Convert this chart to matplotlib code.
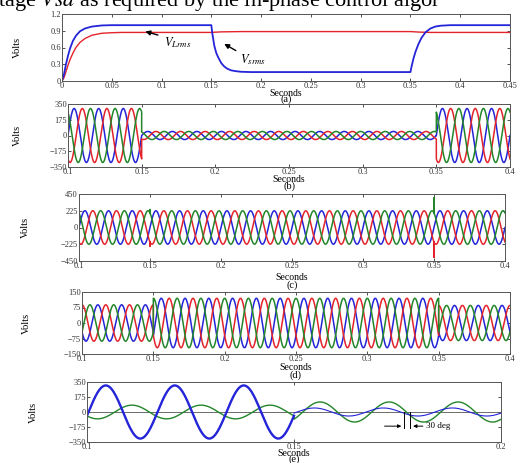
import numpy as np
import matplotlib
matplotlib.use('Agg')
import matplotlib.pyplot as plt

plt.rcParams['font.family'] = ['Liberation Serif', 'DejaVu Serif']
plt.rcParams['mathtext.fontset'] = 'stix'
plt.rcParams['axes.unicode_minus'] = True

W, H = 532, 463
FREQ = 60.0
RED, BLUE, GREEN = '#e3242b', '#2424d8', '#23862a'

# ---- (a) rms voltages
a_blue_t = [0, 0.002, 0.004, 0.006, 0.008, 0.011, 0.014, 0.018, 0.023, 0.03, 0.04, 0.05, 0.15,
            0.151, 0.153, 0.155, 0.157, 0.16, 0.163, 0.166, 0.17, 0.175, 0.18, 0.19, 0.2, 0.35,
            0.351, 0.353, 0.355, 0.358, 0.361, 0.365, 0.37, 0.375, 0.38, 0.39, 0.45]
a_blue_v = [0, 0.12, 0.3, 0.45, 0.58, 0.72, 0.81, 0.89, 0.94, 0.975, 0.995, 1.0, 1.0,
            0.85, 0.63, 0.5, 0.42, 0.32, 0.26, 0.22, 0.19, 0.175, 0.165, 0.16, 0.16, 0.16,
            0.25, 0.4, 0.52, 0.66, 0.77, 0.87, 0.94, 0.975, 0.99, 1.0, 1.0]
a_red_t = [0, 0.002, 0.004, 0.006, 0.008, 0.011, 0.014, 0.018, 0.023, 0.03, 0.04, 0.05, 0.06,
           0.15, 0.16, 0.18, 0.35, 0.36, 0.37, 0.45]
a_red_v = [0, 0.06, 0.17, 0.28, 0.38, 0.5, 0.6, 0.69, 0.76, 0.82, 0.855, 0.865, 0.87,
           0.87, 0.88, 0.885, 0.885, 0.875, 0.87, 0.87]

# ---- (b) supply voltage: segment edges, peak values, phase of blue (deg)
b_edges = [0.1, 0.15, 0.35, 0.4]
b_amp = [300, 45, 300]
b_phase = [0, 0, 0]

# ---- (c) load voltage
c_edges = [0.1, 0.15, 0.35, 0.4]
c_amp = [225, 225, 225]
c_phase = [0, 0, 0]
c_spikes = {'red': [-250, -400], 'green': [240, 400]}

# ---- (d) injected voltage
d_edges = [0.1, 0.15, 0.35, 0.4]
d_amp = [88, 120, 85]
d_phase = [210, -30, 210]

# ---- (e) phase a: supply (blue) and injected (green)
e_edges = [0.1, 0.15, 0.2]
e_blue_amp = [310, 47]
e_blue_phase = [-8, -16]
e_green_amp = [80, 117]
e_green_phase = [215, -46]

SHIFT = {'blue': 0, 'red': -120, 'green': 120}
COLORS = {'blue': BLUE, 'red': RED, 'green': GREEN}


def px_box(l, t, r, b):
    return [l / W, 1 - b / H, (r - l) / W, (b - t) / H]


def wave(edges, amps, phases, shift=0.0, spikes=None, n=300):
    ts, vs = [], []
    for k in range(len(amps)):
        t = np.linspace(edges[k], edges[k + 1], n)
        th = 2 * np.pi * FREQ * (t - edges[0]) + np.radians(phases[k] + shift)
        ts.append(t)
        vs.append(amps[k] * np.sin(th))
        if spikes is not None and k < len(amps) - 1 and spikes[k] is not None:
            ts.append(np.array([edges[k + 1]]))
            vs.append(np.array([spikes[k]]))
    return np.concatenate(ts), np.concatenate(vs)


def style(ax, xlim, ylim, xticks, yticks):
    ax.set_xlim(xlim)
    ax.set_ylim(ylim)
    ax.set_xticks(xticks)
    ax.set_yticks(yticks)
    ax.set_xticklabels([f'{v:g}' for v in xticks])
    ax.set_yticklabels([f'{v:g}'.replace('-', '\u2212') for v in yticks])
    ax.tick_params(direction='in', top=True, right=True, length=2.5, width=0.6,
                   labelsize=6, pad=0.8, colors='#333333')
    for s in ax.spines.values():
        s.set_linewidth(0.7)
        s.set_color('#555555')


def labels(ax_box, sec_y, tag_y, tag, volts_x):
    l, t, r, b = ax_box
    cx = (l + r) / 2 / W
    fig.text(cx, 1 - sec_y / H, 'Seconds', ha='center', va='center', fontsize=7)
    fig.text(cx, 1 - tag_y / H, tag, ha='center', va='center', fontsize=7.5)
    fig.text(volts_x / W, 1 - (t + b) / 2 / H, 'Volts', rotation=90, ha='center', va='center',
             fontsize=7.5)


fig = plt.figure(figsize=(W / 100, H / 100), dpi=100)

fig.text(-0.004, 0.988, r'tage $Vsd$ as required by the in-phase control algor',
         fontsize=16, ha='left', va='baseline')

boxes = [(62, 14, 510, 81), (68, 104, 510, 167), (79, 194, 505, 261),
         (82, 292, 510, 354), (87, 382, 501, 442)]
sec_ys = [93, 179, 277, 367, 453]
tag_ys = [99.5, 186, 285.5, 375, 459.5]
volts_xs = [17, 17, 25, 26, 33]
tags = ['(a)', '(b)', '(c)', '(d)', '(e)']

axes = [fig.add_axes(px_box(*bx)) for bx in boxes]
for bx, sy, ty, tg, vx in zip(boxes, sec_ys, tag_ys, tags, volts_xs):
    labels(bx, sy, ty, tg, vx)

# (a)
ax = axes[0]
ax.plot(a_red_t, a_red_v, color=RED, lw=1.0)
ax.plot(a_blue_t, a_blue_v, color=BLUE, lw=1.3)
style(ax, (0, 0.45), (0, 1.2), np.round(np.arange(0, 0.451, 0.05), 2), [0, 0.3, 0.6, 0.9, 1.2])
ax.annotate('', xy=(0.081, 0.9), xytext=(0.099, 0.81),
            arrowprops=dict(arrowstyle='-|>', color='k', lw=1.0, mutation_scale=7))
ax.text(0.102, 0.68, r'$V_{Lrms}$', fontsize=9, va='center')
ax.annotate('', xy=(0.1605, 0.69), xytext=(0.177, 0.52),
            arrowprops=dict(arrowstyle='-|>', color='k', lw=1.0, mutation_scale=7))
ax.text(0.179, 0.38, r'$V_{srms}$', fontsize=9, va='center')

# (b), (c), (d)
xt = np.round(np.arange(0.1, 0.401, 0.05), 2)
panels = [(axes[1], b_edges, b_amp, b_phase, None, 350),
          (axes[2], c_edges, c_amp, c_phase, c_spikes, 450),
          (axes[3], d_edges, d_amp, d_phase, None, 150)]
for ax, edges, amp, ph, spk, lim in panels:
    for name in ['blue', 'red', 'green']:
        s = spk.get(name) if spk else None
        t, v = wave(edges, amp, ph, SHIFT[name], spikes=s)
        ax.plot(t, v, color=COLORS[name], lw=1.1)
    style(ax, (0.1, 0.4), (-lim, lim), xt, [-lim, -lim / 2, 0, lim / 2, lim])

# (e)
ax = axes[4]
ax.axhline(0, color='#555555', lw=0.6)
t, v = wave(e_edges, e_green_amp, e_green_phase)
ax.plot(t, v, color=GREEN, lw=1.0)
for k in range(2):
    t, v = wave(e_edges[k:k + 2], e_blue_amp[k:k + 1], [e_blue_phase[k] + 360 * FREQ * (e_edges[k] - e_edges[0])])
    ax.plot(t, v, color=BLUE, lw=1.7 if k == 0 else 0.8)
style(ax, (0.1, 0.2), (-350, 350), [0.1, 0.15, 0.2], [-350, -175, 0, 175, 350])
for tx in (0.1766, 0.1781):
    ax.plot([tx, tx], [0, -190], color='k', lw=0.7)
ax.annotate('', xy=(0.1766, -165), xytext=(0.1712, -165),
            arrowprops=dict(arrowstyle='-|>', color='k', lw=0.7, mutation_scale=5))
ax.annotate('', xy=(0.1781, -165), xytext=(0.1818, -165),
            arrowprops=dict(arrowstyle='-|>', color='k', lw=0.7, mutation_scale=5))
ax.text(0.1818, -165, '30 deg', fontsize=6.5, va='center')

fig.savefig('out.png', dpi=100)
